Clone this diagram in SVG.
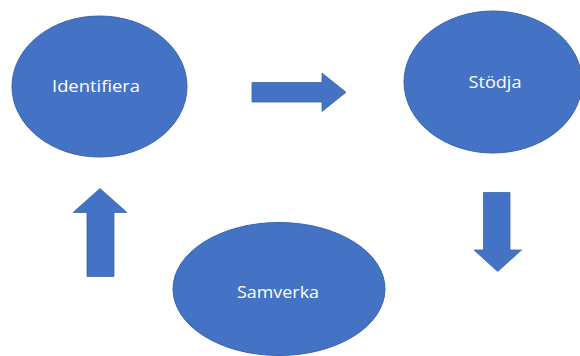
<svg xmlns="http://www.w3.org/2000/svg" width="580" height="356" viewBox="0 0 580 356">
<style>
.n{fill:#4472c4;stroke:#3b64ad;stroke-width:1}
.t{fill:#ffffff;font-family:"Open Sans","Liberation Sans",sans-serif;font-size:16px;text-anchor:middle}
.a{fill:#4472c4;stroke:#3b64ad;stroke-width:0.8}
</style>
<rect width="580" height="356" fill="#ffffff"/>
<g id="identifiera"><ellipse class="n" cx="99.5" cy="86.5" rx="87.5" ry="70.5"/><text class="t" x="96" y="92" textLength="88" lengthAdjust="spacingAndGlyphs">Identifiera</text></g>
<g id="stodja"><ellipse class="n" cx="493" cy="82" rx="89" ry="71"/><text class="t" x="495" y="88" textLength="53" lengthAdjust="spacingAndGlyphs">Stödja</text></g>
<g id="samverka"><ellipse class="n" cx="279" cy="289" rx="106" ry="66.5"/><text class="t" x="278" y="298" textLength="82" lengthAdjust="spacingAndGlyphs">Samverka</text></g>
<g id="connectors">
<polygon class="a" points="252,82.5 322,82.5 322,73 346,92.3 322,111.5 322,102 252,102"/>
<polygon class="a" points="87,276.5 87,212.5 73,212.5 100,188.5 127,212.5 114,212.5 114,276.5"/>
<polygon class="a" points="483.5,192.5 510,192.5 510,250 521.5,250 497.7,271.5 474,250 483.5,250"/>
</g>
</svg>
